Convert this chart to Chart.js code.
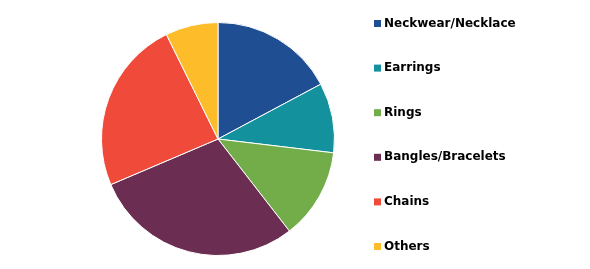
<!DOCTYPE html>
<html>
<head>
<meta charset="utf-8">
<script src="https://cdn.jsdelivr.net/npm/chart.js@4/dist/chart.umd.min.js"></script>
<style>
html,body{margin:0;padding:0;background:#fff;}
#wrap{width:590px;height:269px;position:relative;}
</style>
</head>
<body>
<div id="wrap"><canvas id="c" width="590" height="269"></canvas></div>
<script>
const categories = ["Neckwear/Necklace", "Earrings", "Rings", "Bangles/Bracelets", "Chains", "Others"];
const shares = [17.2, 9.7, 12.6, 29.1, 24.1, 7.3];
const colors = ["#1F4E93", "#13929E", "#72AD49", "#6C2D52", "#EF4A3A", "#FDBD2A"];

const sideLegend = {
  id: 'sideLegend',
  afterDraw(chart) {
    const ctx = chart.ctx;
    ctx.save();
    ctx.font = "bold 12px 'DejaVu Sans', Verdana, sans-serif";
    ctx.textBaseline = 'middle';
    ctx.textAlign = 'left';
    const x0 = 374, y0 = 23, step = 44.6;
    categories.forEach((label, i) => {
      const y = y0 + i * step;
      ctx.fillStyle = colors[i];
      ctx.fillRect(x0, y - 3, 7, 7);
      ctx.fillStyle = '#000';
      ctx.fillText(label, x0 + 10, y + 0.5);
    });
    ctx.restore();
  }
};

new Chart(document.getElementById('c'), {
  type: 'pie',
  data: {
    labels: categories,
    datasets: [{
      data: shares,
      backgroundColor: colors,
      borderColor: '#ffffff',
      borderWidth: 1
    }]
  },
  options: {
    responsive: false,
    animation: false,
    layout: { padding: { left: 101, right: 255, top: 22, bottom: 13 } },
    plugins: {
      legend: { display: false },
      tooltip: { enabled: false }
    }
  },
  plugins: [sideLegend]
});
</script>
</body>
</html>
